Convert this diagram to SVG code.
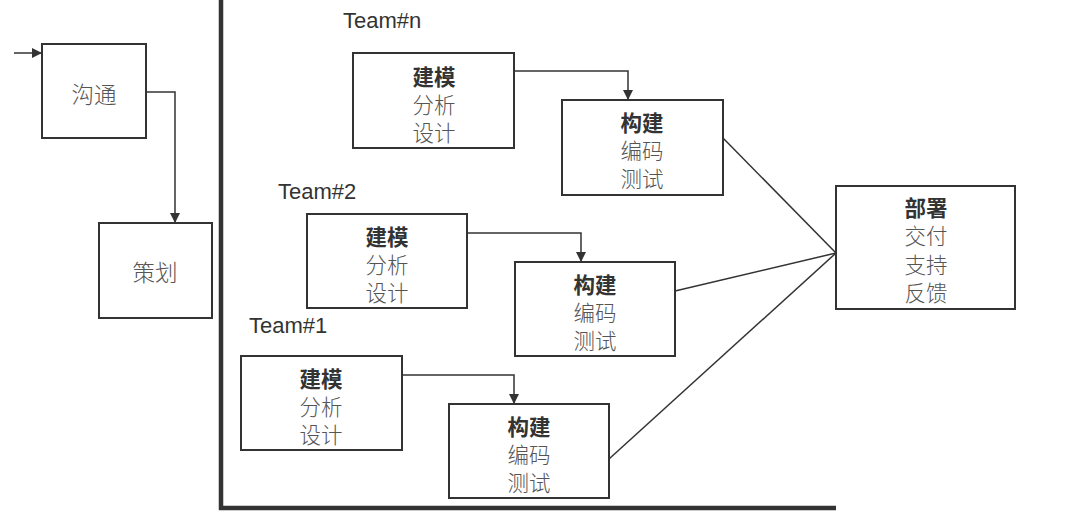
<svg xmlns="http://www.w3.org/2000/svg" width="1083" height="528" viewBox="0 0 1083 528">
<style>
.box{fill:#fff;stroke:#333;stroke-width:2}
.ln{fill:none;stroke:#333;stroke-width:1.5}
.axis{fill:none;stroke:#333;stroke-width:4.5}
.t{font-family:"Noto Sans CJK SC","Noto Sans",sans-serif;font-size:21.5px;font-weight:300;fill:#555;text-anchor:middle}
.b{font-weight:bold;fill:#333}
.big{font-size:22.5px}
.team{font-family:"Liberation Sans",Arial,sans-serif;font-size:22px;fill:#333}
</style>
<defs>
<marker id="ah" markerWidth="10" markerHeight="10" refX="10" refY="5" orient="auto" markerUnits="userSpaceOnUse">
<path d="M0,0 L10,5 L0,10 Z" fill="#333"/>
</marker>
</defs>
<rect width="1083" height="528" fill="#fff"/>
<g id="axes">
<path class="axis" d="M221,0 V508 H836"/>
</g>
<g id="connectors">
<path class="ln" d="M14,53 H42" marker-end="url(#ah)"/>
<path class="ln" d="M146,92 H175 V223" marker-end="url(#ah)"/>
<path class="ln" d="M514,71 H628 V100" marker-end="url(#ah)"/>
<path class="ln" d="M467,233 H581 V262" marker-end="url(#ah)"/>
<path class="ln" d="M402,375 H514 V404" marker-end="url(#ah)"/>
<path class="ln" d="M723,138 L836,253"/>
<path class="ln" d="M675,291 L836,253"/>
<path class="ln" d="M609,459 L836,253"/>
</g>
<g id="goutong">
<rect class="box" x="42" y="44" width="104" height="94"/>
<text class="t big" x="94" y="102.5">沟通</text>
</g>
<g id="cehua">
<rect class="box" x="99" y="223" width="113" height="95"/>
<text class="t big" x="155" y="280.5">策划</text>
</g>
<g id="team-n-label"><text class="team" x="343" y="28">Team#n</text></g>
<g id="team-2-label"><text class="team" x="278" y="199">Team#2</text></g>
<g id="team-1-label"><text class="team" x="249" y="333">Team#1</text></g>
<g id="model-n">
<rect class="box" x="353" y="53" width="161" height="95"/>
<text class="t b" x="434" y="84.5">建模</text>
<text class="t" x="434" y="112.5">分析</text>
<text class="t" x="434" y="140.5">设计</text>
</g>
<g id="build-n">
<rect class="box" x="562" y="100" width="161" height="95"/>
<text class="t b" x="642" y="130.5">构建</text>
<text class="t" x="642" y="158.5">编码</text>
<text class="t" x="642" y="186.5">测试</text>
</g>
<g id="model-2">
<rect class="box" x="307" y="214" width="160" height="94"/>
<text class="t b" x="387" y="244.5">建模</text>
<text class="t" x="387" y="272.5">分析</text>
<text class="t" x="387" y="300.5">设计</text>
</g>
<g id="build-2">
<rect class="box" x="515" y="262" width="160" height="94"/>
<text class="t b" x="595" y="292.5">构建</text>
<text class="t" x="595" y="320.5">编码</text>
<text class="t" x="595" y="348.5">测试</text>
</g>
<g id="model-1">
<rect class="box" x="241" y="356" width="161" height="94"/>
<text class="t b" x="321" y="386.5">建模</text>
<text class="t" x="321" y="414.5">分析</text>
<text class="t" x="321" y="442.5">设计</text>
</g>
<g id="build-1">
<rect class="box" x="449" y="404" width="160" height="94"/>
<text class="t b" x="529" y="434.5">构建</text>
<text class="t" x="529" y="462.5">编码</text>
<text class="t" x="529" y="490.5">测试</text>
</g>
<g id="deploy">
<rect class="box" x="836" y="186" width="179" height="123"/>
<text class="t b" x="926" y="215.5">部署</text>
<text class="t" x="926" y="243.5">交付</text>
<text class="t" x="926" y="272.5">支持</text>
<text class="t" x="926" y="300.5">反馈</text>
</g>
</svg>
